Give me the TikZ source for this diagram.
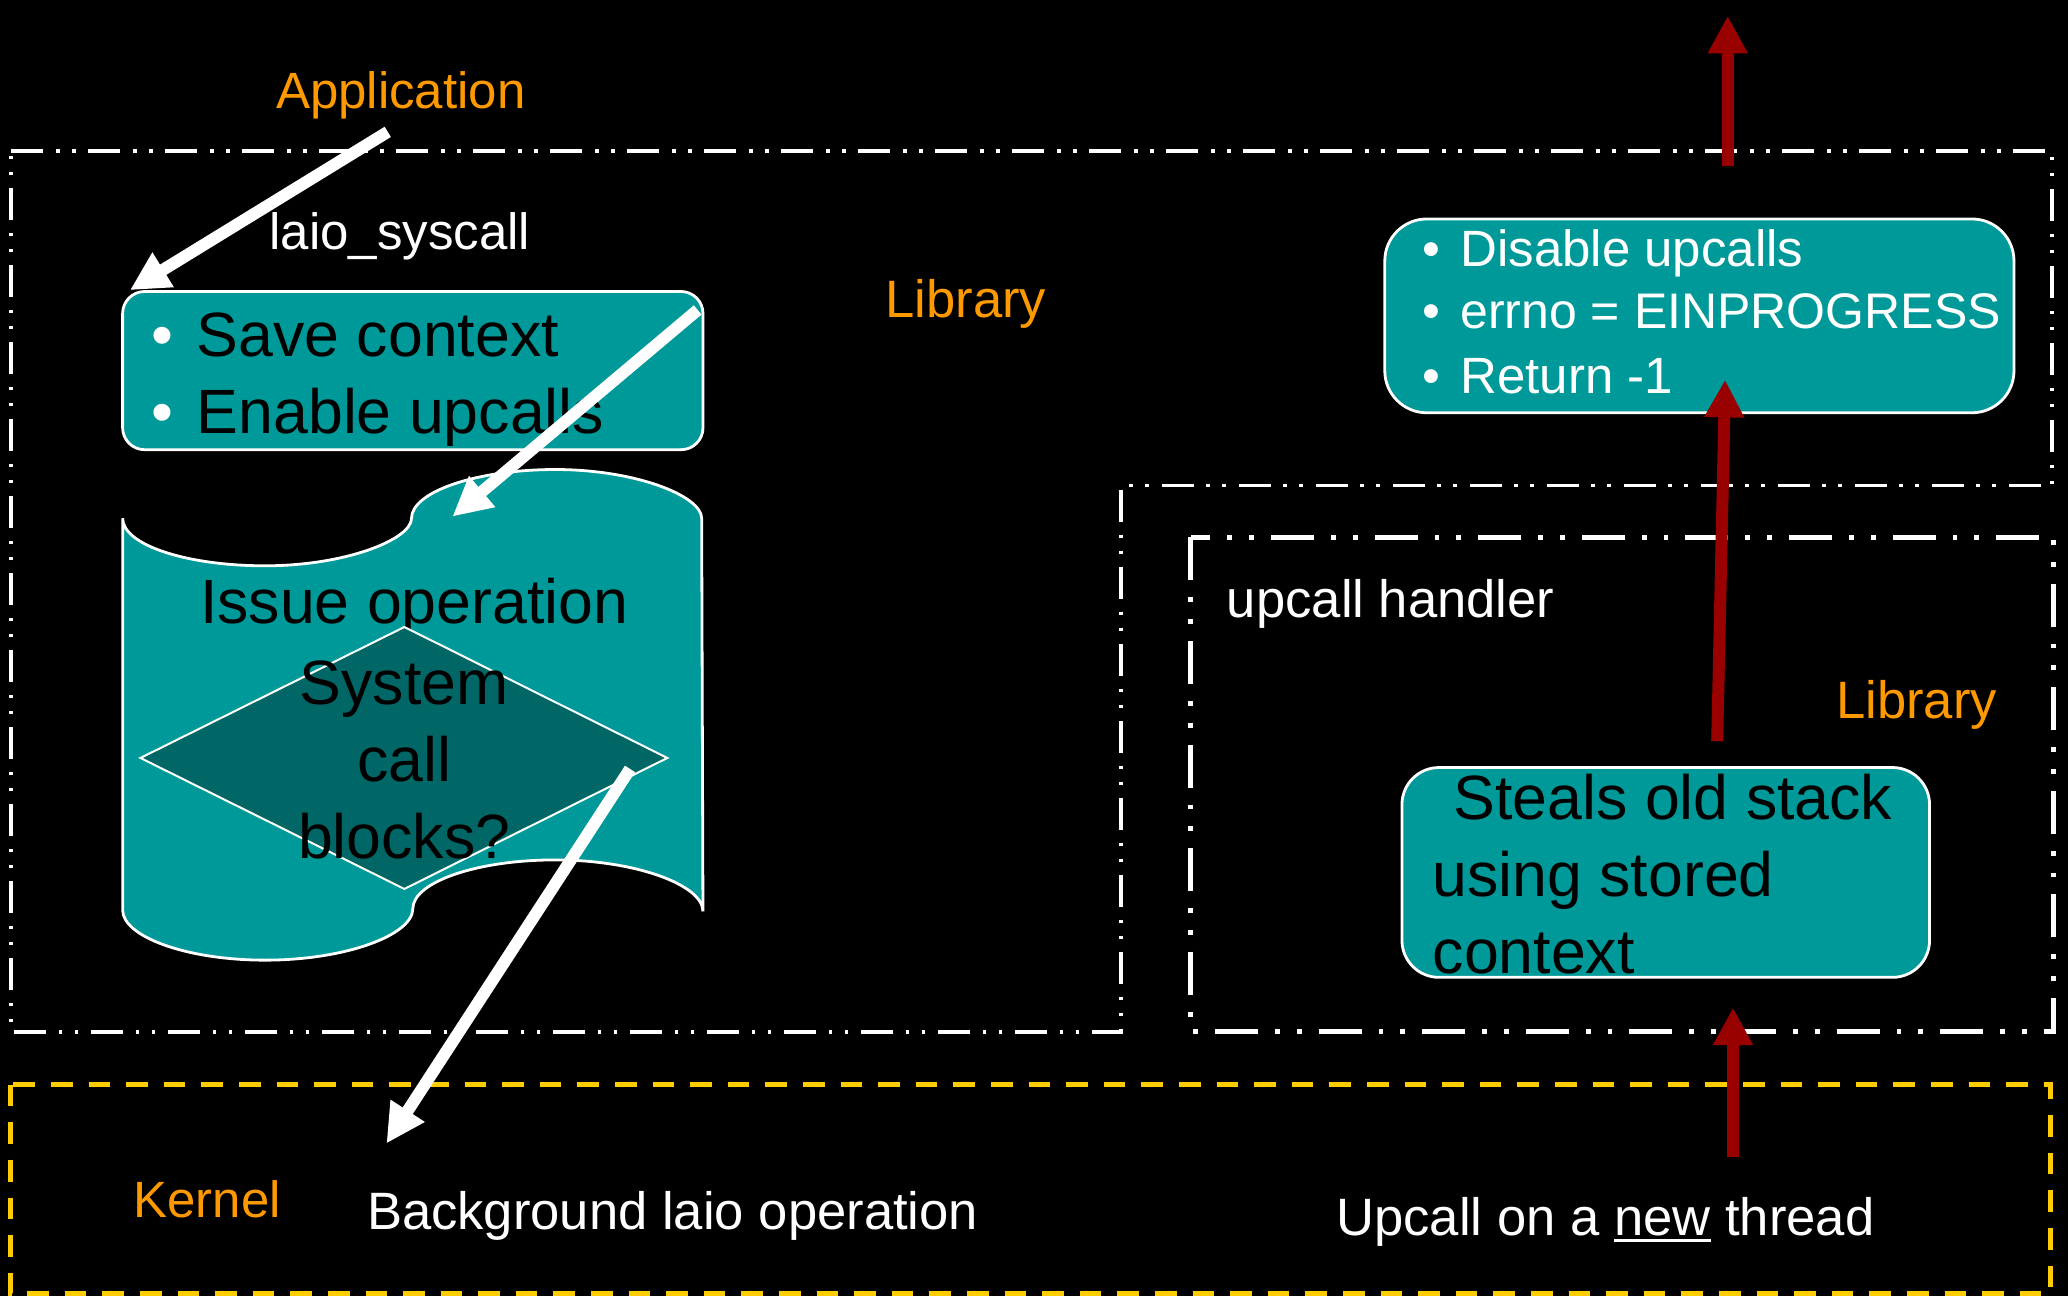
\documentclass[tikz,border=0pt]{standalone}
\usepackage{fontspec}
\setmainfont{Liberation Sans}
\usetikzlibrary{arrows.meta}

\definecolor{tealfill}{HTML}{009999}
\definecolor{tealdark}{HTML}{006666}
\definecolor{layerorange}{HTML}{FF9900}
\definecolor{kernelyellow}{HTML}{FFCC00}
\definecolor{upred}{HTML}{990000}

% underline drawn as a rule just below the baseline
\newcommand\lineunder[1]{\setbox0=\hbox{#1}\rlap{\rule[-3.6pt]{\wd0}{1.65pt}}\box0\relax}

\begin{document}
\begin{tikzpicture}[x=0.65945pt, y=-0.65945pt,
  layerline/.style={white, line width=1.75pt,
    dash pattern=on 16pt off 6.5pt on 1.75pt off 6.25pt on 1.75pt off 6.25pt},
  handlerline/.style={white, line width=2.5pt,
    dash pattern=on 21.5pt off 8.5pt on 2.4pt off 8.5pt on 2.4pt off 8.5pt},
  kernelline/.style={kernelyellow, line width=2.4pt, dash pattern=on 10.8pt off 8pt},
  stepbox/.style={draw=white, line width=1.4pt, fill=tealfill, rectangle, inner sep=0pt},
  smalltext/.style={inner sep=0pt, font=\fontsize{25.5}{30}\selectfont},
  widetext/.style={inner sep=0pt, font=\fontsize{26.3}{31}\selectfont},
  bigtext/.style={inner sep=0pt, font=\fontsize{31.3}{36}\selectfont},
  layername/.style={smalltext, text=layerorange},
  whitearrow/.style={draw=white, line width=6pt, -{Triangle[length=19.5pt,width=19pt]}},
  redarrow/.style={draw=upred, line width=6pt, -{Triangle[length=18.75pt,width=18.75pt]}},
]
\useasboundingbox (0,0) rectangle (1568,983);
\fill[black] (0,0) rectangle (1568,983);

% layer outlines
\draw[layerline] (8.5,114.5) -- (1556,114.5) -- (1556,368) -- (850,368)
  -- (850,782.5) -- (8.5,782.5) -- cycle;
\draw[handlerline] (903,407.5) rectangle (1557,782);
\draw[kernelline] (8,822.5) rectangle (1555,981);

% library entry box
\node[stepbox, rounded corners=11pt, minimum width=290.2pt, minimum height=79.1pt]
  (savebox) at (313,281) {};
% punched tape: issue operation
\draw[fill=tealfill, draw=white, line width=1.4pt]
  (93,393) .. controls (93,413) and (141,429) .. (201,429)
  .. controls (262,429) and (312,409) .. (312,393)
  .. controls (312,373) and (361,356) .. (421,356)
  .. controls (482,356) and (532,376) .. (532,393)
  -- (533,691)
  .. controls (533,671) and (482,652) .. (421,652)
  .. controls (361,652) and (313,669) .. (313,689)
  .. controls (313,709) and (262,728) .. (201,728)
  .. controls (141,728) and (93,710) .. (93,690)
  -- cycle;
\node[bigtext, anchor=base] (issue) at (314,473) {Issue operation};
% decision
\draw[fill=tealdark, draw=white, line width=1pt]
  (106.5,574.7) -- (306.6,475.4) -- (506,574.7) -- (306.6,674) -- cycle;
\node[bigtext, anchor=base] (sysline) at (306.5,534) {System};
\node[bigtext, anchor=base] (callline) at (306.5,592.6) {call};
\node[bigtext, anchor=base] (blockline) at (306.5,651) {blocks?};

% return box
\node[stepbox, rounded corners=21pt, minimum width=314.6pt, minimum height=96.9pt]
  (retbox) at (1288.5,239.5) {};
% upcall handler box
\node[stepbox, rounded corners=18.5pt, minimum width=263.8pt, minimum height=104.9pt]
  (stealbox) at (1263,661.5) {};

% layer names
\node[layername, anchor=base west] (appname) at (209,82) {Application};
\node[layername, widetext, anchor=base west] (libname) at (671,241) {Library};
\node[layername, widetext, anchor=base west] (libname2) at (1392,545) {Library};
\node[layername, anchor=base west] (kername) at (101,923) {Kernel};

% labels
\node[smalltext, white, anchor=base west] (syscall) at (204,189) {laio\_syscall};
\node[widetext, white, anchor=base west] (handler) at (930,468) {upcall handler};
\node[widetext, white, anchor=base west] (bgop) at (278,932) {Background laio operation};
\node[widetext, white, anchor=base west] (newthr) at (1013,936.5)
  {Upcall on a \lineunder{new} thread};

% entry box items
\node[bigtext, white, anchor=base] (bul1) at (123,270.5) {\textbullet};
\node[bigtext, anchor=base west] (savectx) at (149,270.5) {Save context};
\node[bigtext, white, anchor=base] (bul2) at (123,328.5) {\textbullet};
\node[bigtext, anchor=base west] (enable) at (149,328.5) {Enable upcalls};

% return box items
\node[smalltext, white, anchor=base] (bul3) at (1085,201.7) {\textbullet};
\node[smalltext, white, anchor=base west] (disable) at (1107,201.7) {Disable upcalls};
\node[smalltext, white, anchor=base] (bul4) at (1085,249) {\textbullet};
\node[smalltext, white, anchor=base west, font=\fontsize{25}{30}\selectfont]
  (errno) at (1107,249) {errno = EINPROGRESS};
\node[smalltext, white, anchor=base] (bul5) at (1085,298) {\textbullet};
\node[smalltext, white, anchor=base west] (retm) at (1107,298) {Return -1};

% handler box text
\node[bigtext, anchor=base west] (steal1) at (1102,621.5) {Steals old stack};
\node[bigtext, anchor=base west] (steal2) at (1086,679.5) {using stored};
\node[bigtext, anchor=base west] (steal3) at (1086,738) {context};

% control flow
\coordinate (aA0) at (294,100);    \coordinate (aA1) at (98.5,220);
\coordinate (aB0) at (529,235);    \coordinate (aB1) at (343,391.7);
\coordinate (aC0) at (477.7,583);  \coordinate (aC1) at (293,867);
\coordinate (rD0) at (1310,126);   \coordinate (rD1) at (1310,12);
\coordinate (rE0) at (1302,562);   \coordinate (rE1) at (1308,288);
\coordinate (rF0) at (1314,877);   \coordinate (rF1) at (1314,764);

\draw[whitearrow] (aA0) -- (aA1);
\draw[whitearrow] (aB0) -- (aB1);
\draw[whitearrow] (aC0) -- (aC1);
\draw[redarrow] (rD0) -- (rD1);
\draw[redarrow] (rE0) -- (rE1);
\draw[redarrow] (rF0) -- (rF1);
\end{tikzpicture}
\end{document}
